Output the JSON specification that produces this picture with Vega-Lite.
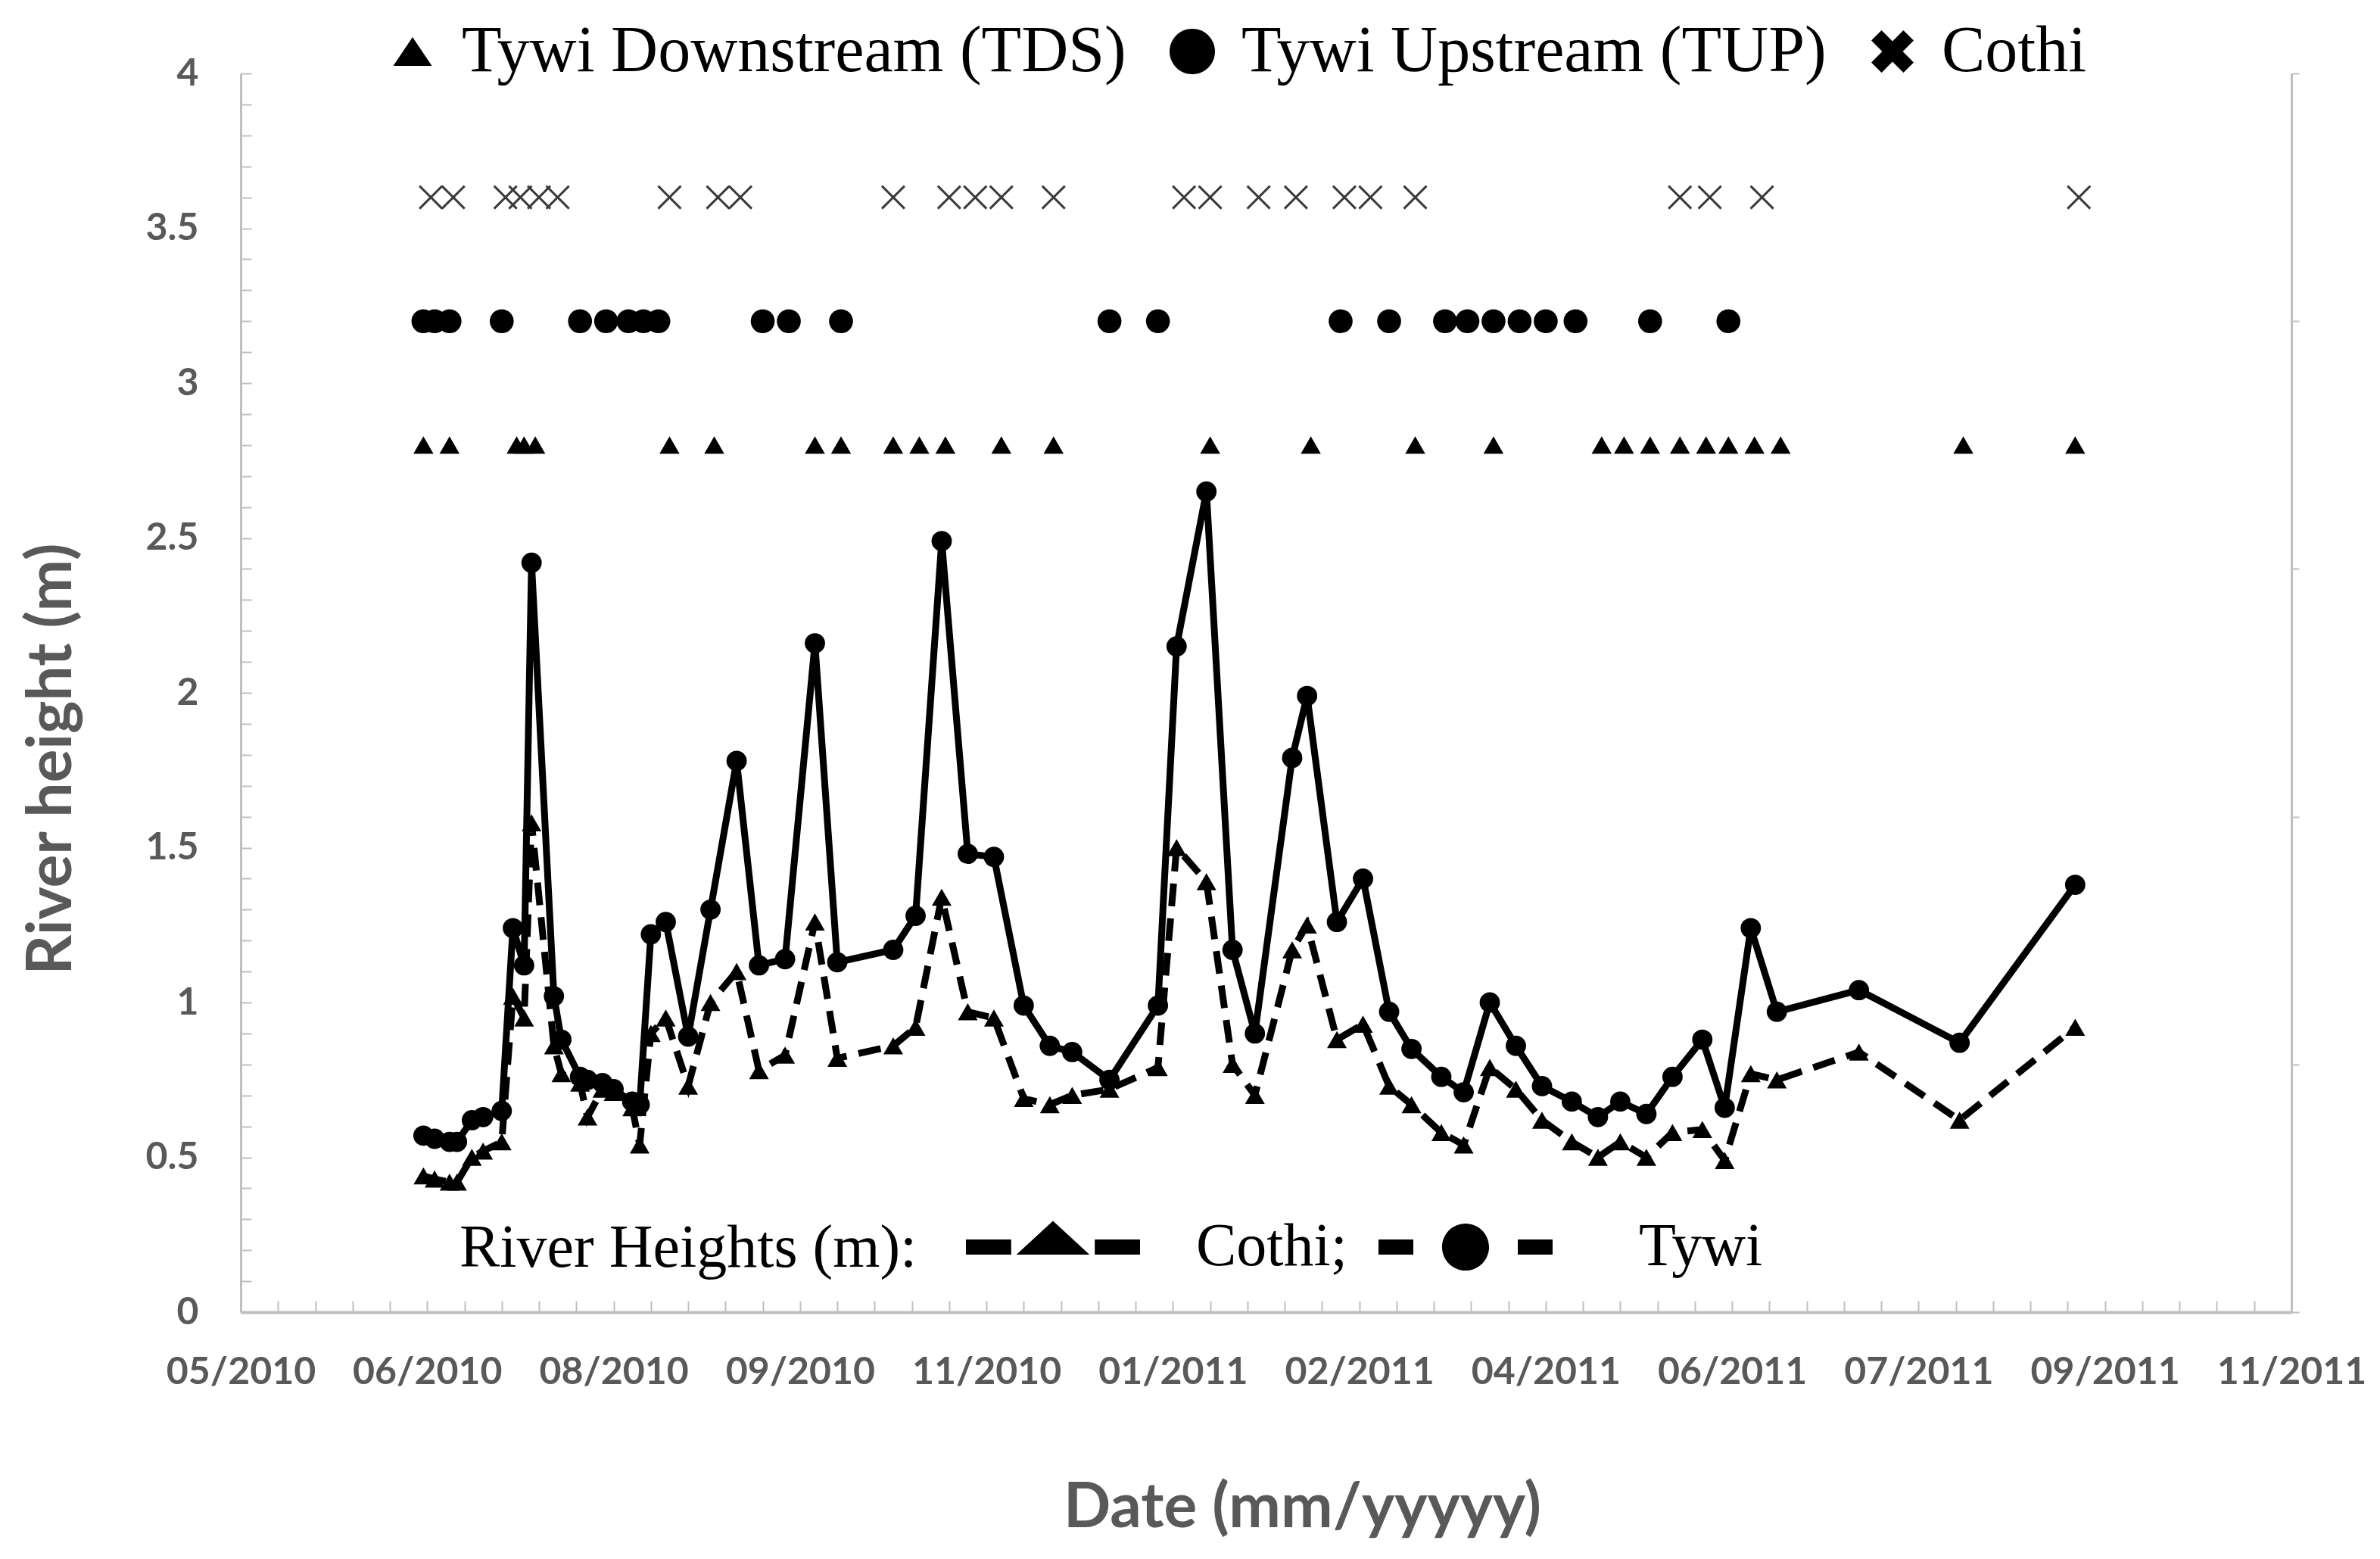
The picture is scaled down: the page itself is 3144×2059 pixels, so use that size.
{
  "$schema": "https://vega.github.io/schema/vega-lite/v6.json",
  "description": "River heights of the Tywi and Cothi with sampling events at TDS, TUP and Cothi",
  "autosize": {"type": "none"},
  "padding": {"left": 318, "top": 97, "right": 117, "bottom": 326},
  "width": 2709,
  "height": 1636,
  "background": "white",
  "config": {
    "view": {"stroke": null},
    "axis": {
      "grid": false,
      "domainColor": "#bfbfbf",
      "tickColor": "#bfbfbf",
      "tickWidth": 2,
      "labelFont": "Lato",
      "labelFontSize": 50,
      "labelFontWeight": "bold",
      "labelColor": "#595959",
      "labelLimit": 1000,
      "titleFont": "Lato",
      "titleFontSize": 82,
      "titleFontWeight": "bold",
      "titleColor": "#595959",
      "labelFlush": false,
      "labelOverlap": false
    },
    "legend": {
      "labelFont": "Liberation Serif",
      "titleFont": "Liberation Serif",
      "labelColor": "black",
      "titleColor": "black",
      "labelLimit": 3000,
      "titleLimit": 3000,
      "padding": 0,
      "symbolStrokeWidth": 0,
      "symbolFillColor": "black"
    }
  },
  "datasets": {
    "heights": [
      {"date": "2010-06-19", "Tywi": 0.57, "Cothi": 0.44},
      {"date": "2010-06-22", "Tywi": 0.56, "Cothi": 0.43},
      {"date": "2010-06-26", "Tywi": 0.55, "Cothi": 0.42},
      {"date": "2010-06-28", "Tywi": 0.55, "Cothi": 0.42},
      {"date": "2010-07-02", "Tywi": 0.62, "Cothi": 0.50},
      {"date": "2010-07-05", "Tywi": 0.63, "Cothi": 0.52},
      {"date": "2010-07-10", "Tywi": 0.65, "Cothi": 0.55},
      {"date": "2010-07-13", "Tywi": 1.24, "Cothi": 1.02},
      {"date": "2010-07-16", "Tywi": 1.12, "Cothi": 0.95},
      {"date": "2010-07-18", "Tywi": 2.42, "Cothi": 1.58},
      {"date": "2010-07-24", "Tywi": 1.02, "Cothi": 0.86},
      {"date": "2010-07-26", "Tywi": 0.88, "Cothi": 0.77},
      {"date": "2010-07-31", "Tywi": 0.76, "Cothi": 0.74},
      {"date": "2010-08-02", "Tywi": 0.75, "Cothi": 0.63},
      {"date": "2010-08-06", "Tywi": 0.74, "Cothi": 0.72},
      {"date": "2010-08-09", "Tywi": 0.72, "Cothi": 0.71},
      {"date": "2010-08-14", "Tywi": 0.68, "Cothi": 0.66},
      {"date": "2010-08-16", "Tywi": 0.67, "Cothi": 0.54},
      {"date": "2010-08-19", "Tywi": 1.22, "Cothi": 0.90},
      {"date": "2010-08-23", "Tywi": 1.26, "Cothi": 0.95},
      {"date": "2010-08-29", "Tywi": 0.89, "Cothi": 0.73},
      {"date": "2010-09-04", "Tywi": 1.30, "Cothi": 1.00},
      {"date": "2010-09-11", "Tywi": 1.78, "Cothi": 1.10},
      {"date": "2010-09-17", "Tywi": 1.12, "Cothi": 0.78},
      {"date": "2010-09-24", "Tywi": 1.14, "Cothi": 0.83},
      {"date": "2010-10-02", "Tywi": 2.16, "Cothi": 1.26},
      {"date": "2010-10-08", "Tywi": 1.13, "Cothi": 0.82},
      {"date": "2010-10-23", "Tywi": 1.17, "Cothi": 0.86},
      {"date": "2010-10-29", "Tywi": 1.28, "Cothi": 0.92},
      {"date": "2010-11-05", "Tywi": 2.49, "Cothi": 1.34},
      {"date": "2010-11-12", "Tywi": 1.48, "Cothi": 0.97},
      {"date": "2010-11-19", "Tywi": 1.47, "Cothi": 0.95},
      {"date": "2010-11-27", "Tywi": 0.99, "Cothi": 0.69},
      {"date": "2010-12-04", "Tywi": 0.86, "Cothi": 0.67},
      {"date": "2010-12-10", "Tywi": 0.84, "Cothi": 0.70},
      {"date": "2010-12-20", "Tywi": 0.75, "Cothi": 0.72},
      {"date": "2011-01-02", "Tywi": 0.99, "Cothi": 0.79},
      {"date": "2011-01-07", "Tywi": 2.15, "Cothi": 1.50},
      {"date": "2011-01-15", "Tywi": 2.65, "Cothi": 1.39},
      {"date": "2011-01-22", "Tywi": 1.17, "Cothi": 0.80},
      {"date": "2011-01-28", "Tywi": 0.90, "Cothi": 0.70},
      {"date": "2011-02-07", "Tywi": 1.79, "Cothi": 1.17},
      {"date": "2011-02-11", "Tywi": 1.99, "Cothi": 1.25},
      {"date": "2011-02-19", "Tywi": 1.26, "Cothi": 0.88},
      {"date": "2011-02-26", "Tywi": 1.40, "Cothi": 0.93},
      {"date": "2011-03-05", "Tywi": 0.97, "Cothi": 0.73},
      {"date": "2011-03-11", "Tywi": 0.85, "Cothi": 0.67},
      {"date": "2011-03-19", "Tywi": 0.76, "Cothi": 0.58},
      {"date": "2011-03-25", "Tywi": 0.71, "Cothi": 0.54},
      {"date": "2011-04-01", "Tywi": 1.00, "Cothi": 0.79},
      {"date": "2011-04-08", "Tywi": 0.86, "Cothi": 0.72},
      {"date": "2011-04-15", "Tywi": 0.73, "Cothi": 0.62},
      {"date": "2011-04-23", "Tywi": 0.68, "Cothi": 0.55},
      {"date": "2011-04-30", "Tywi": 0.63, "Cothi": 0.50},
      {"date": "2011-05-06", "Tywi": 0.68, "Cothi": 0.55},
      {"date": "2011-05-13", "Tywi": 0.64, "Cothi": 0.50},
      {"date": "2011-05-20", "Tywi": 0.76, "Cothi": 0.58},
      {"date": "2011-05-28", "Tywi": 0.88, "Cothi": 0.59},
      {"date": "2011-06-03", "Tywi": 0.66, "Cothi": 0.49},
      {"date": "2011-06-10", "Tywi": 1.24, "Cothi": 0.77},
      {"date": "2011-06-17", "Tywi": 0.97, "Cothi": 0.75},
      {"date": "2011-07-09", "Tywi": 1.04, "Cothi": 0.84},
      {"date": "2011-08-05", "Tywi": 0.87, "Cothi": 0.62},
      {"date": "2011-09-05", "Tywi": 1.38, "Cothi": 0.92}
    ],
    "events": [
      {"date": "2010-06-19", "station": "Tywi Downstream (TDS)"},
      {"date": "2010-06-26", "station": "Tywi Downstream (TDS)"},
      {"date": "2010-07-14", "station": "Tywi Downstream (TDS)"},
      {"date": "2010-07-16", "station": "Tywi Downstream (TDS)"},
      {"date": "2010-07-19", "station": "Tywi Downstream (TDS)"},
      {"date": "2010-08-24", "station": "Tywi Downstream (TDS)"},
      {"date": "2010-09-05", "station": "Tywi Downstream (TDS)"},
      {"date": "2010-10-02", "station": "Tywi Downstream (TDS)"},
      {"date": "2010-10-09", "station": "Tywi Downstream (TDS)"},
      {"date": "2010-10-23", "station": "Tywi Downstream (TDS)"},
      {"date": "2010-10-30", "station": "Tywi Downstream (TDS)"},
      {"date": "2010-11-06", "station": "Tywi Downstream (TDS)"},
      {"date": "2010-11-21", "station": "Tywi Downstream (TDS)"},
      {"date": "2010-12-05", "station": "Tywi Downstream (TDS)"},
      {"date": "2011-01-16", "station": "Tywi Downstream (TDS)"},
      {"date": "2011-02-12", "station": "Tywi Downstream (TDS)"},
      {"date": "2011-03-12", "station": "Tywi Downstream (TDS)"},
      {"date": "2011-04-02", "station": "Tywi Downstream (TDS)"},
      {"date": "2011-05-01", "station": "Tywi Downstream (TDS)"},
      {"date": "2011-05-07", "station": "Tywi Downstream (TDS)"},
      {"date": "2011-05-14", "station": "Tywi Downstream (TDS)"},
      {"date": "2011-05-22", "station": "Tywi Downstream (TDS)"},
      {"date": "2011-05-29", "station": "Tywi Downstream (TDS)"},
      {"date": "2011-06-04", "station": "Tywi Downstream (TDS)"},
      {"date": "2011-06-11", "station": "Tywi Downstream (TDS)"},
      {"date": "2011-06-18", "station": "Tywi Downstream (TDS)"},
      {"date": "2011-08-06", "station": "Tywi Downstream (TDS)"},
      {"date": "2011-09-05", "station": "Tywi Downstream (TDS)"},
      {"date": "2010-06-19", "station": "Tywi Upstream (TUP)"},
      {"date": "2010-06-22", "station": "Tywi Upstream (TUP)"},
      {"date": "2010-06-26", "station": "Tywi Upstream (TUP)"},
      {"date": "2010-07-10", "station": "Tywi Upstream (TUP)"},
      {"date": "2010-07-31", "station": "Tywi Upstream (TUP)"},
      {"date": "2010-08-07", "station": "Tywi Upstream (TUP)"},
      {"date": "2010-08-13", "station": "Tywi Upstream (TUP)"},
      {"date": "2010-08-17", "station": "Tywi Upstream (TUP)"},
      {"date": "2010-08-21", "station": "Tywi Upstream (TUP)"},
      {"date": "2010-09-18", "station": "Tywi Upstream (TUP)"},
      {"date": "2010-09-25", "station": "Tywi Upstream (TUP)"},
      {"date": "2010-10-09", "station": "Tywi Upstream (TUP)"},
      {"date": "2010-12-20", "station": "Tywi Upstream (TUP)"},
      {"date": "2011-01-02", "station": "Tywi Upstream (TUP)"},
      {"date": "2011-02-20", "station": "Tywi Upstream (TUP)"},
      {"date": "2011-03-05", "station": "Tywi Upstream (TUP)"},
      {"date": "2011-03-20", "station": "Tywi Upstream (TUP)"},
      {"date": "2011-03-26", "station": "Tywi Upstream (TUP)"},
      {"date": "2011-04-02", "station": "Tywi Upstream (TUP)"},
      {"date": "2011-04-09", "station": "Tywi Upstream (TUP)"},
      {"date": "2011-04-16", "station": "Tywi Upstream (TUP)"},
      {"date": "2011-04-24", "station": "Tywi Upstream (TUP)"},
      {"date": "2011-05-14", "station": "Tywi Upstream (TUP)"},
      {"date": "2011-06-04", "station": "Tywi Upstream (TUP)"},
      {"date": "2010-06-21", "station": "Cothi"},
      {"date": "2010-06-27", "station": "Cothi"},
      {"date": "2010-07-11", "station": "Cothi"},
      {"date": "2010-07-15", "station": "Cothi"},
      {"date": "2010-07-20", "station": "Cothi"},
      {"date": "2010-07-25", "station": "Cothi"},
      {"date": "2010-08-24", "station": "Cothi"},
      {"date": "2010-09-06", "station": "Cothi"},
      {"date": "2010-09-12", "station": "Cothi"},
      {"date": "2010-10-23", "station": "Cothi"},
      {"date": "2010-11-07", "station": "Cothi"},
      {"date": "2010-11-14", "station": "Cothi"},
      {"date": "2010-11-21", "station": "Cothi"},
      {"date": "2010-12-05", "station": "Cothi"},
      {"date": "2011-01-09", "station": "Cothi"},
      {"date": "2011-01-16", "station": "Cothi"},
      {"date": "2011-01-29", "station": "Cothi"},
      {"date": "2011-02-08", "station": "Cothi"},
      {"date": "2011-02-21", "station": "Cothi"},
      {"date": "2011-02-28", "station": "Cothi"},
      {"date": "2011-03-12", "station": "Cothi"},
      {"date": "2011-05-22", "station": "Cothi"},
      {"date": "2011-05-30", "station": "Cothi"},
      {"date": "2011-06-13", "station": "Cothi"},
      {"date": "2011-09-06", "station": "Cothi"}
    ]
  },
  "resolve": {
    "axis": {"y": "independent"},
    "scale": {"shape": "independent"},
    "legend": {"shape": "independent"}
  },
  "layer": [
    {
      "data": {"name": "heights"},
      "mark": {"type": "line", "color": "black", "strokeWidth": 9, "strokeDash": [30, 16], "strokeCap": "butt"},
      "encoding": {
        "x": {
          "field": "date",
          "type": "temporal",
          "scale": {"type": "utc", "domain": [1272672000000, 1320192000000]},
          "axis": {
            "orient": "bottom",
            "title": "Date (mm/yyyyy)",
            "titleX": 1402,
            "titleY": 258,
            "titleAlign": "center",
            "titleBaseline": "middle",
            "values": [1272672000000, 1273536000000, 1274400000000, 1275264000000, 1276128000000, 1276992000000, 1277856000000, 1278720000000, 1279584000000, 1280448000000, 1281312000000, 1282176000000, 1283040000000, 1283904000000, 1284768000000, 1285632000000, 1286496000000, 1287360000000, 1288224000000, 1289088000000, 1289952000000, 1290816000000, 1291680000000, 1292544000000, 1293408000000, 1294272000000, 1295136000000, 1296000000000, 1296864000000, 1297728000000, 1298592000000, 1299456000000, 1300320000000, 1301184000000, 1302048000000, 1302912000000, 1303776000000, 1304640000000, 1305504000000, 1306368000000, 1307232000000, 1308096000000, 1308960000000, 1309824000000, 1310688000000, 1311552000000, 1312416000000, 1313280000000, 1314144000000, 1315008000000, 1315872000000, 1316736000000, 1317600000000, 1318464000000, 1319328000000, 1320192000000],
            "labelExpr": "round((datum.value - 1272672000000) / 864000000) % 5 == 0 ? utcFormat(datum.value, '%m/%Y') : ''",
            "labelBaseline": "top",
            "labelPadding": 69,
            "tickSize": -15,
            "domainWidth": 4
          }
        },
        "y": {
          "field": "Cothi",
          "type": "quantitative",
          "scale": {"domain": [0, 4], "nice": false, "zero": true},
          "axis": {
            "orient": "left",
            "title": "River height (m)",
            "titleX": -250,
            "titleY": 905,
            "titleAngle": -90,
            "titleAlign": "center",
            "titleBaseline": "middle",
            "values": [0, 0.1, 0.2, 0.3, 0.4, 0.5, 0.6, 0.7, 0.8, 0.9, 1, 1.1, 1.2, 1.3, 1.4, 1.5, 1.6, 1.7, 1.8, 1.9, 2, 2.1, 2.2, 2.3, 2.4, 2.5, 2.6, 2.7, 2.8, 2.9, 3, 3.1, 3.2, 3.3, 3.4, 3.5, 3.6, 3.7, 3.8, 3.9, 4],
            "labelExpr": "round(datum.value * 10) % 5 == 0 ? format(datum.value, '~g') : ''",
            "labelPadding": 70,
            "tickSize": -14,
            "domainWidth": 3
          }
        }
      }
    },
    {
      "data": {"name": "heights"},
      "mark": {"type": "point", "shape": "triangle-up", "filled": true, "color": "black", "opacity": 1, "size": 680},
      "encoding": {
        "x": {"field": "date", "type": "temporal"},
        "y": {"field": "Cothi", "type": "quantitative", "axis": null}
      }
    },
    {
      "data": {"name": "heights"},
      "mark": {"type": "line", "color": "black", "strokeWidth": 9},
      "encoding": {
        "x": {"field": "date", "type": "temporal"},
        "y": {"field": "Tywi", "type": "quantitative", "axis": null}
      }
    },
    {
      "data": {"name": "heights"},
      "mark": {"type": "point", "shape": "circle", "filled": true, "color": "black", "opacity": 1, "size": 720},
      "encoding": {
        "x": {"field": "date", "type": "temporal"},
        "y": {"field": "Tywi", "type": "quantitative", "axis": null}
      }
    },
    {
      "data": {"name": "events"},
      "transform": [{"filter": "datum.station == 'Tywi Downstream (TDS)'"}],
      "mark": {"type": "point", "shape": "triangle-up", "filled": true, "color": "black", "opacity": 1, "size": 700},
      "encoding": {
        "x": {"field": "date", "type": "temporal"},
        "y": {
          "datum": 2.8,
          "type": "quantitative",
          "axis": {
            "orient": "right",
            "title": null,
            "labels": false,
            "values": [0, 0.8, 1.6, 2.4, 3.2, 4],
            "tickSize": 10,
            "domainWidth": 3
          }
        }
      }
    },
    {
      "data": {"name": "events"},
      "transform": [{"filter": "datum.station == 'Tywi Upstream (TUP)'"}],
      "mark": {"type": "point", "shape": "circle", "filled": true, "color": "black", "opacity": 1, "size": 1000},
      "encoding": {
        "x": {"field": "date", "type": "temporal"},
        "y": {"datum": 3.2, "type": "quantitative", "axis": null}
      }
    },
    {
      "data": {"name": "events"},
      "transform": [{"filter": "datum.station == 'Cothi'"}],
      "mark": {"type": "point", "shape": "M-1,-1L1,1M-1,1L1,-1", "filled": false, "color": "#3a3a3a", "strokeWidth": 3, "opacity": 1, "size": 900},
      "encoding": {
        "x": {"field": "date", "type": "temporal"},
        "y": {"datum": 3.6, "type": "quantitative", "axis": null}
      }
    },
    {
      "data": {"values": []},
      "mark": {"type": "point", "filled": true, "color": "black", "opacity": 1},
      "encoding": {
        "shape": {
          "field": "station",
          "type": "nominal",
          "scale": {
            "domain": ["Tywi Downstream (TDS)", "Tywi Upstream (TUP)", "Cothi"],
            "range": [
              "M0,-0.63L0.85,0.63L-0.85,0.63Z",
              "M1,0A1,1,0,1,1,-1,0A1,1,0,1,1,1,0Z",
              "M0.481,-0.933L0.933,-0.481L0.453,0L0.933,0.481L0.481,0.933L0,0.453L-0.481,0.933L-0.933,0.481L-0.453,0L-0.933,-0.481L-0.481,-0.933L0,-0.453Z"
            ]
          },
          "legend": {
            "orient": "none",
            "legendX": 184,
            "legendY": -72,
            "direction": "horizontal",
            "title": null,
            "labelFontSize": 86,
            "symbolSize": 3600,
            "labelOffset": 22,
            "columnPadding": 44
          }
        }
      }
    },
    {
      "data": {"values": []},
      "mark": {"type": "point", "filled": true, "color": "black", "opacity": 1},
      "encoding": {
        "shape": {
          "field": "river",
          "type": "nominal",
          "scale": {
            "domain": ["Cothi", "Tywi"],
            "range": [
              "M-1,-0.087H-0.48V0.087H-1Z M-0.42,0.087L0,-0.3L0.42,0.087Z M0.48,-0.087H1V0.087H0.48Z",
              "M-1,-0.087H-0.6V0.087H-1Z M0.27,0A0.27,0.27,0,1,1,-0.27,0A0.27,0.27,0,1,1,0.27,0Z M0.6,-0.087H1V0.087H0.6Z"
            ]
          },
          "legend": {
            "orient": "none",
            "legendX": 289,
            "legendY": 1435,
            "direction": "horizontal",
            "title": "River Heights (m):",
            "titleOrient": "left",
            "titleAnchor": "middle",
            "titleBaseline": "top",
            "titleFontSize": 80,
            "titleFontWeight": "normal",
            "titlePadding": 64,
            "labelFontSize": 80,
            "symbolSize": 52900,
            "labelOffset": 74,
            "columnPadding": 40,
            "labelExpr": "datum.label == 'Cothi' ? 'Cothi;' : '\u200b\u00a0\u00a0Tywi'"
          }
        }
      }
    }
  ]
}
